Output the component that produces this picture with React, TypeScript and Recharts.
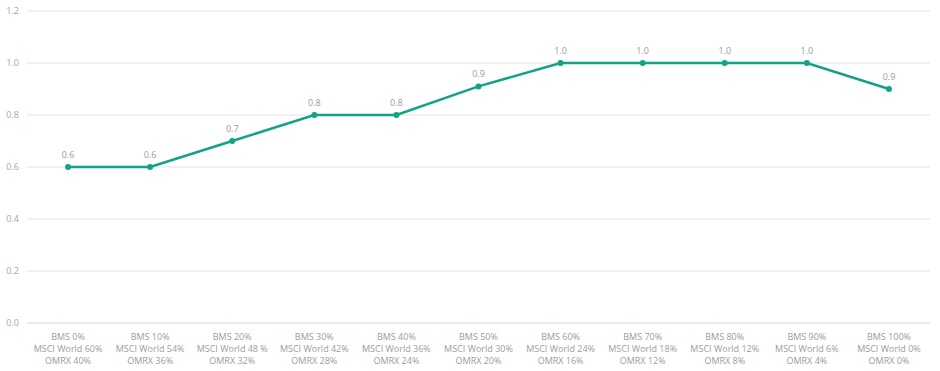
import React from 'react';
import { LineChart, Line, XAxis, YAxis, CartesianGrid, LabelList } from 'recharts';

const bmsLabels = ['BMS 0%', 'BMS 10%', 'BMS 20%', 'BMS 30%', 'BMS 40%', 'BMS 50%', 'BMS 60%', 'BMS 70%', 'BMS 80%', 'BMS 90%', 'BMS 100%'];
const msciLabels = ['MSCI World 60%', 'MSCI World 54%', 'MSCI World 48 %', 'MSCI World 42%', 'MSCI World 36%', 'MSCI World 30%', 'MSCI World 24%', 'MSCI World 18%', 'MSCI World 12%', 'MSCI World 6%', 'MSCI World 0%'];
const omrxLabels = ['OMRX 40%', 'OMRX 36%', 'OMRX 32%', 'OMRX 28%', 'OMRX 24%', 'OMRX 20%', 'OMRX 16%', 'OMRX 12%', 'OMRX 8%', 'OMRX 4%', 'OMRX 0%'];
const values = [0.6, 0.6, 0.7, 0.8, 0.8, 0.91, 1.0, 1.0, 1.0, 1.0, 0.9];
const yTicks = [0, 0.2, 0.4, 0.6, 0.8, 1.0, 1.2];

const data = bmsLabels.map((bms, i) => ({
  name: `${bms}|${msciLabels[i]}|${omrxLabels[i]}`,
  value: values[i]
}));

const FONT = '"Segoe UI", "Open Sans", sans-serif';
const LINE = '#12a385';

const MultiLineTick = (props: any) => {
  const { x, y, payload } = props;
  const lines = String(payload.value).split('|');
  return (
    <text x={x} y={y} textAnchor="middle" fill="#9c9c9c" fontSize={9} fontFamily={FONT}>
      {lines.map((l, i) => (
        <tspan key={i} x={x} dy={i === 0 ? 9 : 12}>{l}</tspan>
      ))}
    </text>
  );
};

const App: React.FC = () => {
  return (
    <div style={styles.container}>
      <LineChart width={940} height={371} data={data} margin={{ top: 11, right: 10, left: 0, bottom: 0 }}>
        <CartesianGrid vertical={false} stroke="#e3e3e3" />
        <XAxis
          dataKey="name"
          scale="band"
          axisLine={{ stroke: '#e3e3e3' }}
          tickLine={false}
          interval={0}
          height={48}
          tick={<MultiLineTick />}
        />
        <YAxis
          width={27}
          domain={[0, 1.2]}
          ticks={yTicks}
          axisLine={false}
          tickLine={false}
          tickFormatter={(v: number) => v.toFixed(1)}
          tick={{ fill: '#a6a6a6', fontSize: 9, fontFamily: FONT }}
        />
        <Line
          type="linear"
          dataKey="value"
          stroke={LINE}
          strokeWidth={2.5}
          dot={{ r: 3, fill: LINE, stroke: LINE, strokeWidth: 0 }}
          isAnimationActive={false}
        >
          <LabelList
            dataKey="value"
            position="top"
            offset={9}
            formatter={(v: any) => Number(v).toFixed(1)}
            style={{ fill: '#9a9a9a', fontSize: 9, fontFamily: FONT }}
          />
        </Line>
      </LineChart>
    </div>
  );
};

const styles = {
  container: {
    position: 'absolute' as const,
    left: 0,
    top: 0,
    width: 940,
    height: 371,
    background: 'white'
  }
};

export default App;
